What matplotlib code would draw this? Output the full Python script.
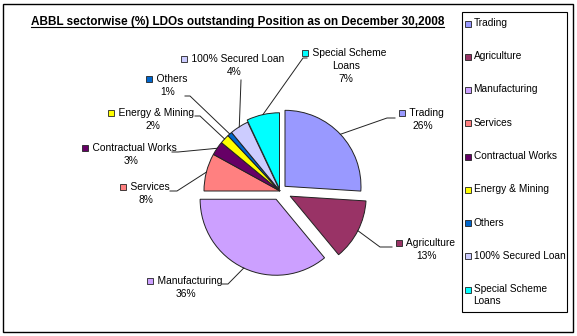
import numpy as np
import matplotlib
matplotlib.use('Agg')
import matplotlib.pyplot as plt
from matplotlib.lines import Line2D
from matplotlib.patches import Rectangle

plt.rcParams['font.family'] = ['Liberation Sans', 'DejaVu Sans']

# data
sectors = ['Trading', 'Agriculture', 'Manufacturing', 'Services', 'Contractual Works',
           'Energy & Mining', 'Others', '100% Secured Loan', 'Special Scheme Loans']
shares = [26, 13, 36, 8, 3, 2, 1, 4, 7]
colors = ['#9999FF', '#993366', '#CCA0FF', '#FF8080', '#660066',
          '#FFFF00', '#0066CC', '#CCCCFF', '#00FFFF']
explode = [0.09, 0.15, 0.12, 0, 0, 0, 0, 0, 0.03]

title = 'ABBL sectorwise (%) LDOs outstanding Position as on December 30,2008'

W, H = 577, 336
def P(x, y):
    # pixel (y down) -> data (y up)
    return x, H - y

# label layout in pixels: block centre x, first line y, leader line points
lab_lines = [['Trading'], ['Agriculture'], ['Manufacturing'], ['Services'], ['Contractual Works'],
             ['Energy & Mining'], ['Others'], ['100% Secured Loan'], ['Special Scheme', 'Loans']]
lab_pos = [(421, 113), (425, 243), (184, 281), (144, 187), (129, 148),
           (151, 113), (166, 79), (232, 59), (344, 53)]
leader = [[(387, 118), (395, 118)], [(380, 247), (392, 247)], [(228, 284), (222, 284)],
          [(177, 191), (170, 191)], [(178, 152), (172, 152)], [(200, 116), (195, 116)],
          [(190, 96), (185, 96)], [(241, 80)], [(303, 58), (307, 58)]]
leg_labels = sectors[:-1] + ['Special Scheme\nLoans']

fig = plt.figure(figsize=(W / 100, H / 100), dpi=100)
ax = fig.add_axes([0, 0, 1, 1])

cx, cy = P(280, 191)
r = 76
wedges, _ = ax.pie(shares, colors=colors, explode=[e * r for e in explode], startangle=90,
                   counterclock=False, radius=r, center=(cx, cy),
                   wedgeprops=dict(edgecolor='#222222', linewidth=0.7))
ax.set_xlim(0, W)
ax.set_ylim(0, H)
ax.set_aspect('equal')
ax.axis('off')

fs = 7.4
fig.canvas.draw()
renderer = fig.canvas.get_renderer()
for i, w in enumerate(wedges):
    # leader line from outer edge at mid angle
    mid = np.deg2rad((w.theta1 + w.theta2) / 2)
    wx, wy = w.center
    sx, sy = wx + r * np.cos(mid), wy + r * np.sin(mid)
    pts = [(sx, sy)] + [P(*p) for p in leader[i]]
    ax.plot([p[0] for p in pts], [p[1] for p in pts], color='#222222', lw=0.7, zorder=1)

    bx, by = lab_pos[i]
    lines = lab_lines[i]
    t = ax.text(0, 0, '    ' + lines[0], fontsize=fs, va='center', ha='center')
    bb = t.get_window_extent(renderer)
    t.set_position(P(bx, by))
    x0 = bx - bb.width / 2
    ax.plot(*P(x0 + 4, by), marker='s', ms=4.5, mfc=colors[i], mec='#222222', mew=0.6)
    rest = lines[1:] + ['%d%%' % shares[i]]
    for k, s in enumerate(rest):
        ax.text(*P(bx + 2, by + 13 * (k + 1)), s, fontsize=fs, va='center', ha='center')

# legend box drawn by hand to match the fixed layout
fig.add_artist(Rectangle((462 / W, 1 - 312 / H), 105 / W, 300 / H, transform=fig.transFigure,
                         fill=False, edgecolor='black', lw=0.8))
for i, lab in enumerate(leg_labels):
    y = 23.5 + 33.25 * i
    ax.plot(*P(468, y), marker='s', ms=4.2, mfc=colors[i], mec='#222222', mew=0.6)
    nl = lab.count('\n')
    ax.text(*P(473.5, y - 0.5 + 6 * nl), lab, fontsize=7.3, va='center', ha='left', linespacing=1.2)

tt = fig.text(31 / W, 1 - 22 / H, title, fontsize=8.5, fontweight='bold', ha='left', va='center')
fig.canvas.draw()
tb = tt.get_window_extent(renderer)
uy = tb.y0 + 1
fig.add_artist(Line2D([tb.x0 / W, tb.x1 / W], [uy / H, uy / H], color='black', lw=0.8,
                      transform=fig.transFigure))

fig.add_artist(Rectangle((3 / W, 4 / H), 570 / W, 328 / H, transform=fig.transFigure,
                         fill=False, edgecolor='black', lw=1))

fig.savefig('out.png', dpi=100)
